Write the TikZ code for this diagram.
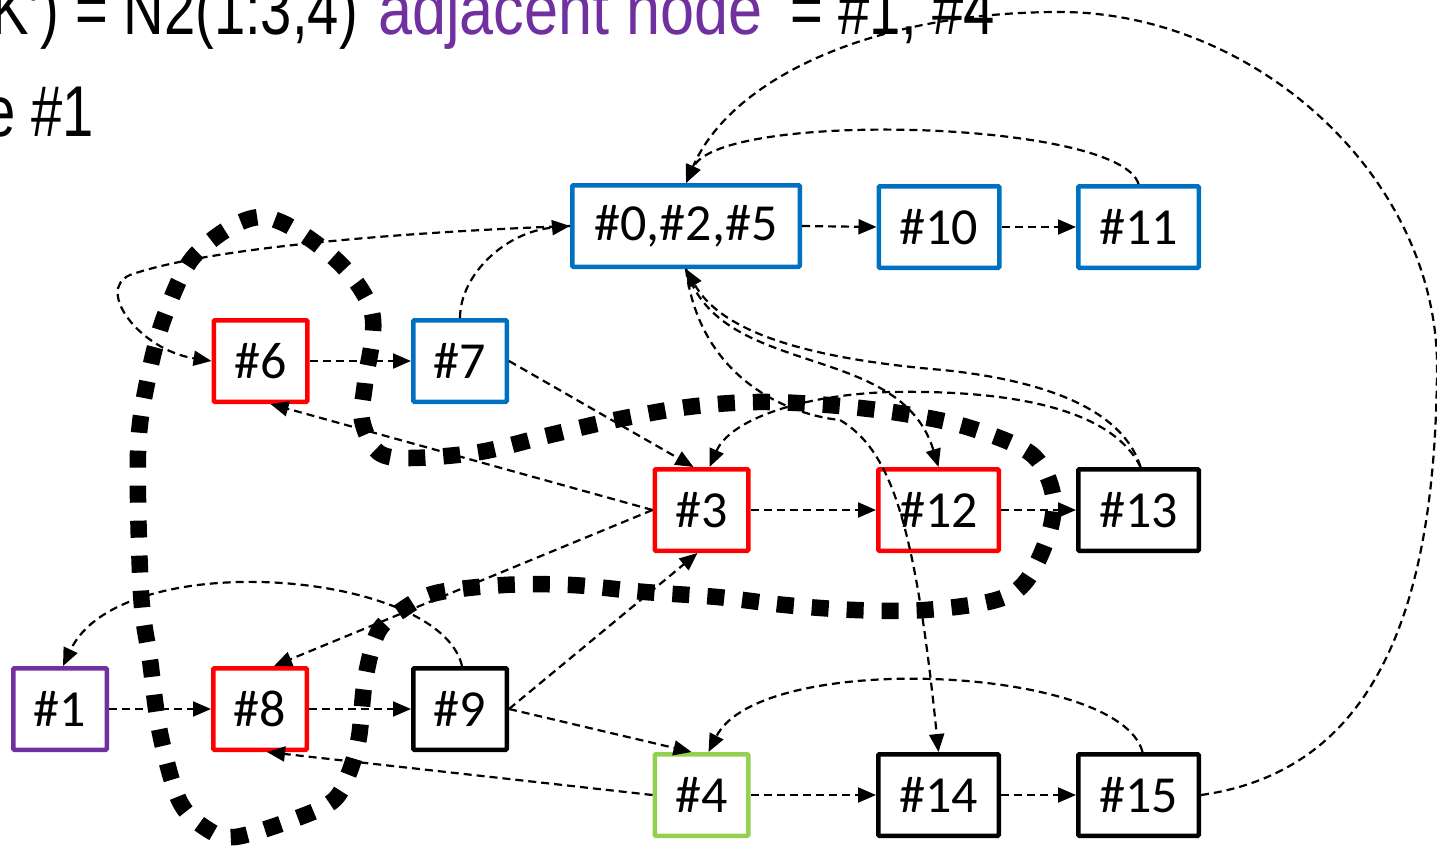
\documentclass[tikz,border=0pt]{standalone}
\usepackage{fontspec}
\usetikzlibrary{arrows.meta}
\newfontfamily\hdrfont[FakeStretch=0.85]{Liberation Sans}
\newfontfamily\hdrnarrow[FakeStretch=0.78]{Liberation Sans}
\newfontfamily\boxfont{Carlito}
\definecolor{nodeblue}{HTML}{0070C0}
\definecolor{nodered}{HTML}{FF0000}
\definecolor{nodepurple}{HTML}{7030A0}
\definecolor{nodegreen}{HTML}{92D050}
\begin{document}
\begin{tikzpicture}[x=1pt,y=-1pt,
  box/.style={draw, line width=4.5pt, rounded corners=1pt, minimum width=93.5pt,
    minimum height=81.5pt, inner sep=0pt, font=\boxfont\fontsize{52}{60}\selectfont},
  wide/.style={minimum width=120.5pt},
  link/.style={line width=2.2pt, dash pattern=on 8pt off 5pt,
    -{Triangle[length=18pt,width=15pt]}},
  group/.style={line width=16.5pt, dash pattern=on 17pt off 18pt},
  hdr/.style={inner sep=0pt, font=\hdrnarrow\fontsize{72}{86}\selectfont},
  hdrwide/.style={inner sep=0pt, font=\hdrfont\fontsize{72}{86}\selectfont}]
\useasboundingbox (0,0) rectangle (1437,848);

% heading lines
\node[hdr, anchor=base east] (h1) at (358,35) {K’) = N2(1:3,4)};
\node[hdrwide, anchor=base west, text=nodepurple] (h2) at (378,35) {adjacent node};
\node[hdr, anchor=base west] (h3) at (790,35) {= \#1, \#4};
\node[hdr, anchor=base east] (h4) at (94,137) {e \#1};

% nodes
\node[box, draw=nodeblue, minimum width=227.5pt] (n0) at (686,226) {\#0,\#2,\#5};
\node[box, wide, draw=nodeblue] (n10) at (939,227) {\#10};
\node[box, wide, draw=nodeblue] (n11) at (1138.5,227) {\#11};
\node[box, draw=nodered] (n6) at (260.5,361) {\#6};
\node[box, draw=nodeblue] (n7) at (460,361) {\#7};
\node[box, draw=nodered] (n3) at (701.5,510) {\#3};
\node[box, wide, draw=nodered] (n12) at (938.5,510) {\#12};
\node[box, wide, draw=black] (n13) at (1138.5,510) {\#13};
\node[box, draw=nodepurple] (n1) at (60,709) {\#1};
\node[box, draw=nodered] (n8) at (260,709) {\#8};
\node[box, draw=black] (n9) at (460,709) {\#9};
\node[box, draw=nodegreen] (n4) at (701.5,795) {\#4};
\node[box, wide, draw=black] (n14) at (938.5,795) {\#14};
\node[box, wide, draw=black] (n15) at (1138.5,795) {\#15};

% thick grouping outline
\draw[group] plot[smooth cycle, tension=0.55] coordinates {
  (262,217) (333,257) (372,313) (365,383) (362,420) (378,452) (410,458)
  (480,452) (550,435) (615,420) (688,407) (757,402) (828,405) (899,413)
  (967,427) (1030,453) (1052,490) (1050,530) (1027,580) (996,600)
  (925,610) (855,610) (785,605) (717,597) (645,592) (572,585) (504,585)
  (436,593) (402,610) (378,632) (365,680) (359,737) (349,773) (334,800)
  (300,817) (235,837) (204,827) (179,800) (160,733) (150,660) (141,593)
  (138,453) (147,383) (165,315) (197,253)};

% straight links
\draw[link] (n0.east) -- (n10.west);
\draw[link] (n10.east) -- (n11.west);
\draw[link] (n6.east) -- (n7.west);
\draw[link] (n3.east) -- (n12.west);
\draw[link] (n12.east) -- (n13.west);
\draw[link] (n1.east) -- (n8.west);
\draw[link] (n8.east) -- (n9.west);
\draw[link] (n4.east) -- (n14.west);
\draw[link] (n14.east) -- (n15.west);
\draw[link] (n7.east) -- ([xshift=-8pt]n3.north);
\draw[link] (n3.west) -- ([xshift=10pt]n6.south);
\draw[link] (n3.west) -- ([xshift=14pt]n8.north);
\draw[link] (n9.east) -- ([xshift=-4pt]n3.south);
\draw[link] (n9.east) -- ([xshift=-10pt]n4.north);
\draw[link] (n4.west) -- ([xshift=7pt]n8.south);

% curved links
\draw[link] (n7.north) .. controls (460,275) and (505,232) .. (n0.west);
\draw[link] (n0.west) .. controls (380,233) and (200,250) .. (130,275)
  .. controls (95,290) and (140,350) .. (n6.west);
\draw[link] ([xshift=2pt]n9.north) .. controls (440,570) and (120,545) .. ([xshift=3pt]n1.north);
\draw[link] ([xshift=4pt]n15.north) .. controls (1120,665) and (760,650) .. ([xshift=7pt]n4.north);
\draw[link] (n11.north) .. controls (1120,120) and (720,110) .. (n0.north);
\draw[link] (n15.east) .. controls (1380,770) and (1437,600) .. (1437,360)
  .. controls (1432,170) and (1250,12) .. (1060,12)
  .. controls (870,12) and (730,80) .. (n0.north);
\draw[link] (n0.south) .. controls (700,380) and (790,415) .. (840,420)
  .. controls (890,450) and (915,520) .. (n14.north);
\draw[link] (n0.south) .. controls (720,380) and (900,340) .. (n12.north);
\draw[link] ([xshift=2pt]n13.north) .. controls (1120,400) and (1020,378) .. (943,370)
  .. controls (800,358) and (720,330) .. (n0.south);
\draw[link] ([xshift=2pt]n13.north) .. controls (1110,405) and (1000,390) .. (890,392)
  .. controls (800,395) and (730,420) .. ([xshift=8pt]n3.north);
\end{tikzpicture}
\end{document}
